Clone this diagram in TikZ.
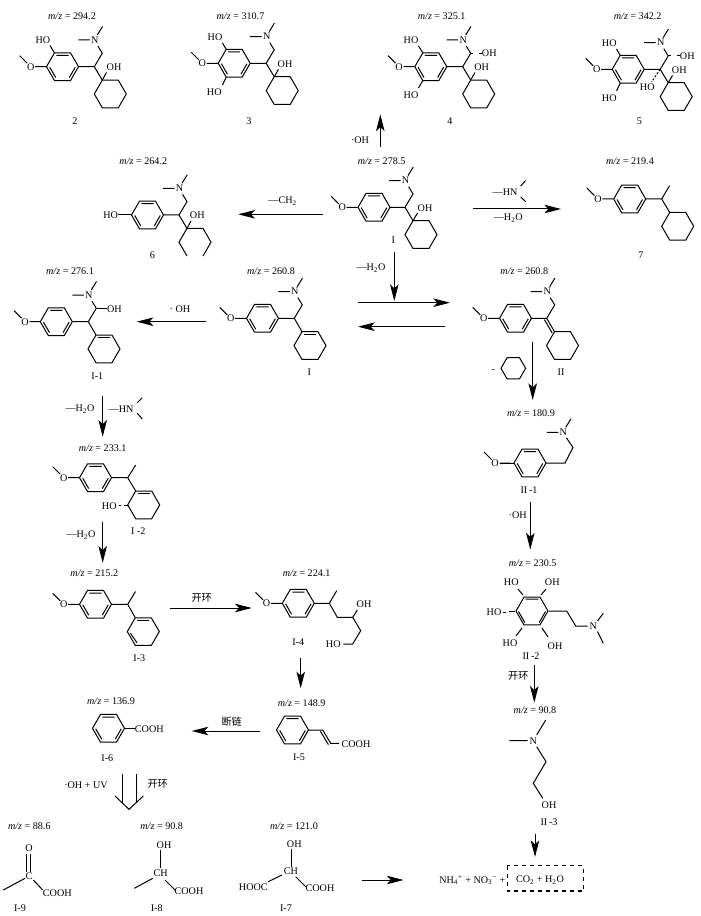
\documentclass[tikz,border=0pt]{standalone}
\usepackage{fontspec}
\setmainfont{Liberation Serif}
\newfontfamily\cjk{Noto Sans CJK SC}
\usetikzlibrary{arrows.meta}
\newcommand{\mz}[1]{\textit{m/z} = #1}
\tikzset{
    bond/.style={line width=.75pt},
    rxn/.style={line width=.75pt, -{Stealth[length=12.5pt,width=6.4pt,inset=3pt]}},
    txt/.style={inner sep=0pt, font=\fontsize{7.6}{9}\selectfont},
    hexring/.pic={\draw[bond] (0:16) -- (60:16) -- (120:16) -- (180:16) -- (240:16) -- (300:16) -- cycle;},
    hexene/.pic={\pic {hexring}; \draw[bond] (242:12.8) -- (298:12.8);},
    benzring/.pic={\pic {hexring}; \draw[bond] (242:12.8) -- (298:12.8) (2:12.8) -- (58:12.8) (122:12.8) -- (178:12.8);},
    methoxy/.pic={\node[txt] (-o) at (0,0) {O}; \draw[bond] (4.5,0) -- (15.5,0) (-3.5,-3.5) -- (-11,-11);},
    amine/.pic={\node[txt] (-n) at (0,0) {N}; \draw[bond] (-16.5,0) -- (-5,0) (2.5,-5) -- (7.7,-13.5);},
    sidechain/.pic={\draw[bond] (-16,0) -- (0,0) -- (8,-13.4) -- (3.6,-20.6); \pic (-am) at (0.5,-26.7) {amine};},
    cyclo/.pic={\draw[bond] (0,0) -- (8,13.4); \pic at (16,27.3) {hexring};}
}
\begin{document}
\begin{tikzpicture}[x=.75pt,y=-.75pt]
    \useasboundingbox (0,0) rectangle (700,916);

    % Compound 2
    \node[txt] (mz2) at (72,16) {\mz{294.2}};
    \pic at (62.5,66.7) {benzring}; \pic (oa) at (30.7,66.7) {methoxy};
    \pic (sa) at (94.3,66.7) {sidechain}; \pic at (94.3,66.7) {cyclo};
    \node[txt] (hoa) at (43,40) {HO}; \draw[bond] (50,45.5) -- (54.5,53);
    \node[txt] (oha) at (114,67.3) {OH}; \draw[bond] (102.3,80) -- (106.5,72.5);
    \node[txt] (two) at (75,121) {2};

    % Compound 3
    \node[txt] (mz3) at (240.5,16) {\mz{310.7}};
    \pic at (234.2,63.3) {benzring}; \pic (ob) at (202.3,63.3) {methoxy};
    \pic (sb) at (266.2,63.3) {sidechain}; \pic at (266.2,63.3) {cyclo};
    \node[txt] (hob) at (215,36.7) {HO}; \draw[bond] (222.5,43) -- (226.2,49.4);
    \node[txt] (hoc) at (214.3,91.7) {HO}; \draw[bond] (222.5,85) -- (226.2,77.2);
    \node[txt] (ohb) at (285,64) {OH}; \draw[bond] (274.2,76.7) -- (278.5,69.3);
    \node[txt] (three) at (249,121) {3};

    % Compound 4
    \node[txt] (mz4) at (441.7,16) {\mz{325.1}};
    \pic at (430.8,66.7) {benzring}; \pic (oc) at (399,66.7) {methoxy};
    \pic (sc) at (462.7,66.7) {sidechain}; \pic at (462.7,66.7) {cyclo};
    \node[txt] (hod) at (411,40) {HO}; \draw[bond] (418.5,46) -- (422.8,52.8);
    \node[txt] (hoe) at (411,95) {HO}; \draw[bond] (418.5,88) -- (422.8,80.6);
    \node[txt] (ohc) at (489.3,53.3) {OH}; \draw[bond] (470.7,53.3) -- (473,53.3) (479,53.3) -- (482,53.3);
    \node[txt] (ohd) at (481.7,67.3) {OH}; \draw[bond] (470.7,80) -- (475,72.5);
    \node[txt] (four) at (450,121) {4};

    % Compound 5
    \node[txt] (mz5) at (637.7,16) {\mz{342.2}};
    \pic at (628.2,69.3) {benzring}; \pic (od) at (596.7,69.3) {methoxy};
    \pic (sd) at (660.2,69.3) {sidechain}; \pic at (660.2,69.3) {cyclo};
    \node[txt] (hof) at (609.3,42.7) {HO}; \draw[bond] (616.5,49) -- (620.2,55.4);
    \node[txt] (hog) at (609.3,97.7) {HO}; \draw[bond] (616.5,91) -- (620.2,83.2);
    \node[txt] (ohe) at (687.3,56) {OH}; \draw[bond] (668.2,55.9) -- (670.5,55.9) (676.5,55.9) -- (680,55.9);
    \node[txt] (ohf) at (679.3,70) {OH}; \draw[bond] (668.2,82.7) -- (672.5,75.5);
    \node[txt] (hoh) at (647.3,86.7) {HO}; \draw[bond,dash pattern=on 1.6pt off 1.2pt] (660.2,69.3) -- (651.5,82);
    \node[txt] (five) at (639.3,121) {5};

    % Parent compound
    \node[txt] (mz1) at (381.7,161.7) {\mz{278.5}};
    \pic at (374,207.3) {benzring}; \pic (oe) at (342.2,207.3) {methoxy};
    \pic (se) at (405,207.3) {sidechain}; \pic at (405,207.3) {cyclo};
    \node[txt] (ohg) at (425,208) {OH}; \draw[bond] (413,220.7) -- (417.5,213);
    \node[txt] (one) at (393.3,240) {I};

    % Compound 6, its ring is open below
    \node[txt] (mz6) at (143.3,161.7) {\mz{264.2}};
    \pic at (147.5,215) {benzring};
    \node[txt] (hoi) at (110.7,215) {HO}; \draw[bond] (hoi.east) -- (131.5,215);
    \pic (sf) at (179,215) {sidechain};
    \draw[bond] (179,215) -- (187,228.4) -- (203,228.4) -- (211,242.2) -- (203,256);
    \draw[bond] (187,228.4) -- (179,242.2) -- (187,256);
    \node[txt] (ohh) at (197.3,215) {OH}; \draw[bond] (187,228.4) -- (191,221);
    \node[txt] (six) at (152.3,255) {6};

    % Compound 7
    \node[txt] (mz7) at (630,161.7) {\mz{219.4}};
    \pic at (629.7,199) {benzring}; \pic (of) at (597.9,199) {methoxy};
    \draw[bond] (645.7,199) -- (661.7,199) -- (669.5,185.7);
    \pic at (661.7,199) {cyclo};
    \node[txt] (seven) at (641,255) {7};

    % Upper arrows
    \coordinate (ua1) at (380.3,147.3); \coordinate (ua2) at (380.3,114.5); \draw[rxn] (ua1) -- (ua2);
    \node[txt] (lbla) at (360,140) {·OH};
    \coordinate (ub1) at (323.3,214.3); \coordinate (ub2) at (238.3,214.3); \draw[rxn] (ub1) -- (ub2);
    \node[txt] (lblb) at (282.7,201) {—CH\textsubscript{2}};
    \coordinate (uc1) at (473.3,209); \coordinate (uc2) at (561,209); \draw[rxn] (uc1) -- (uc2);
    \node[txt] (lblc) at (505,191.7) {—HN};
    \draw[bond] (520.7,186) -- (525.7,180.5) (520.7,197) -- (525.7,201.7);
    \node[txt] (lbld) at (508.3,218.3) {—H\textsubscript{2}O};

    % Dehydration and equilibrium
    \coordinate (da1) at (394.3,251.7); \coordinate (da2) at (394.3,301); \draw[rxn] (da1) -- (da2);
    \node[txt] (lble) at (371,268.3) {—H\textsubscript{2}O};
    \coordinate (ea1) at (357.7,302.7); \coordinate (ea2) at (450,302.7); \draw[rxn] (ea1) -- (ea2);
    \coordinate (eb1) at (445,326.7); \coordinate (eb2) at (358,326.7); \draw[rxn] (eb1) -- (eb2);

    % Isomer I
    \node[txt] (mzi) at (271,271.7) {\mz{260.8}};
    \pic at (262.5,318.3) {benzring}; \pic (og) at (230.7,318.3) {methoxy};
    \pic (sg) at (294.3,318.3) {sidechain};
    \draw[bond] (294.3,318.3) -- (302,331.7); \pic at (310,345.6) {hexene};
    \node[txt] (isoa) at (309.3,371.7) {I};

    % Isomer II
    \node[txt] (mzii) at (524.3,271.7) {\mz{260.8}};
    \pic at (515.5,318.3) {benzring}; \pic (oh) at (483.7,318.3) {methoxy};
    \pic (sh) at (546.7,318.3) {sidechain};
    \draw[bond] (546.7,318.3) -- (554.5,331.7) (544.4,319.6) -- (552.2,333);
    \pic at (562.5,345.6) {hexring};
    \node[txt] (isob) at (561,371.7) {II};

    % Loss of the ring
    \coordinate (fa1) at (532.7,342.3); \coordinate (fa2) at (532.7,400); \draw[rxn] (fa1) -- (fa2);
    \pic[scale=.77] at (513.3,368.3) {hexring};
    \node[txt] (lblf) at (493.3,371) {-};

    % II-1
    \node[txt] (mziia) at (531,413.3) {\mz{180.9}};
    \pic at (530,463) {benzring}; \pic (oi) at (495,463) {methoxy};
    \draw[bond] (495,463) ++(4.5,0) -- (514,463);
    \draw[bond] (546,463) -- (565,463) -- (573,447.5) -- (566.5,438);
    \pic (ami) at (563.3,432.3) {amine};
    \node[txt] (lblg) at (529,490) {II\,-1};

    % II-2
    \coordinate (ga1) at (530.3,501.7); \coordinate (ga2) at (530.3,549.5); \draw[rxn] (ga1) -- (ga2);
    \node[txt] (lblh) at (517.7,515) {·OH};
    \node[txt] (mziib) at (532.7,562.7) {\mz{230.5}};
    \pic[scale=1.06] at (532,611) {benzring};
    \node[txt] (hoj) at (511.3,581.7) {HO}; \draw[bond] (518,589) -- (523,595);
    \node[txt] (ohi) at (552.3,581.7) {OH}; \draw[bond] (546,589) -- (541,595);
    \node[txt] (hok) at (494,612) {HO}; \draw[bond] (503,612) -- (506,612) (509,611.5) -- (515,611.5);
    \node[txt] (hol) at (510,642.7) {HO}; \draw[bond] (516,636) -- (522,628);
    \node[txt] (ohj) at (555,645.7) {OH}; \draw[bond] (548,637) -- (542,628);
    \draw[bond] (549,611) -- (566.7,611) -- (575.7,626) -- (587.5,626);
    \node[txt] (nb) at (593.3,626) {N};
    \draw[bond] (597.5,621) -- (603.3,613.3) (597.5,631.5) -- (603.3,643.3);
    \node[txt] (lbli) at (531,655.7) {II\,-2};

    % II-3
    \coordinate (ha1) at (534.3,665); \coordinate (ha2) at (534.3,702.7); \draw[rxn] (ha1) -- (ha2);
    \node[txt] (lblj) at (518.3,676) {\cjk 开环};
    \node[txt] (mziic) at (535,710) {\mz{90.8}};
    \node[txt] (nc) at (533.3,741) {N};
    \draw[bond] (509.3,740.7) -- (527.5,740.7) (536.7,735) -- (545.7,720);
    \draw[bond] (536.7,746.7) -- (546,761.7) -- (533.3,783.3) -- (542.7,798.3);
    \node[txt] (ohk) at (549,804.7) {OH};
    \node[txt] (lblk) at (549,821.7) {II\,-3};

    % End products
    \coordinate (ja1) at (535,834); \coordinate (ja2) at (535,857); \draw[rxn] (ja1) -- (ja2);
    \coordinate (ka1) at (361.7,880); \coordinate (ka2) at (403.5,880); \draw[rxn] (ka1) -- (ka2);
    \node[txt] (ions) at (472.3,880) {NH\textsubscript{4}\textsuperscript{+} + NO\textsubscript{3}\textsuperscript{−} +};
    \draw[line width=.8pt, dashed] (507.3,865.7) rectangle (583.5,891);
    \node[txt] (co2) at (540,880) {CO\textsubscript{2} + H\textsubscript{2}O};

    % I-1
    \coordinate (la1) at (205.7,321.7); \coordinate (la2) at (136.7,321.7); \draw[rxn] (la1) -- (la2);
    \node[txt] (lbll) at (180,309.3) {· OH};
    \node[txt] (mzia) at (70,271.7) {\mz{276.1}};
    \pic at (56.3,321.7) {benzring}; \pic (oj) at (25,321.7) {methoxy};
    \pic (sj) at (88.3,321.7) {sidechain};
    \draw[bond] (88.3,321.7) -- (96,335); \pic at (104,348.9) {hexene};
    \node[txt] (ohl) at (114.5,309) {OH}; \draw[bond] (96.3,308.3) -- (107,308.3);
    \node[txt] (lblm) at (97.3,375.7) {I-1};

    % I-2
    \coordinate (ma1) at (102.7,395.7); \coordinate (ma2) at (102.7,436.7); \draw[rxn] (ma1) -- (ma2);
    \node[txt] (lbln) at (80,409) {—H\textsubscript{2}O};
    \node[txt] (lblo) at (121,409) {—HN};
    \draw[bond] (137.3,402.7) -- (142.3,397.7) (137.3,413.3) -- (142.3,419);
    \node[txt] (mzib) at (102.7,448.3) {\mz{233.1}};
    \pic at (95.5,477.7) {benzring}; \pic (ok) at (63.7,477.7) {methoxy};
    \draw[bond] (111.5,477.7) -- (127.7,477.7) -- (135.7,465);
    \draw[bond] (127.7,477.7) -- (135.7,491); \pic at (143.7,504.9) {hexene};
    \node[txt] (hom) at (109.3,505.7) {HO}; \draw[bond] (118.5,505) -- (120.5,505) (123.5,505) -- (127.7,505);
    \node[txt] (lblp) at (138.3,530.7) {I -2};

    % I-3
    \coordinate (na1) at (102.7,522.3); \coordinate (na2) at (102.7,562.7); \draw[rxn] (na1) -- (na2);
    \node[txt] (lblq) at (81,535) {—H\textsubscript{2}O};
    \node[txt] (mzic) at (94.3,573.3) {\mz{215.2}};
    \pic at (95.5,604.3) {benzring}; \pic (ol) at (63.7,604.3) {methoxy};
    \draw[bond] (111.5,604.3) -- (127.7,604.3) -- (135.5,591.5);
    \draw[bond] (127.7,604.3) -- (135.3,617.7); \pic at (143.3,631.6) {hexene};
    \draw[bond] (130.4,633.2) -- (137,642.8);
    \node[txt] (lblr) at (139.3,658.3) {I-3};

    % I-4
    \coordinate (oa1) at (170,608); \coordinate (oa2) at (251.7,608); \draw[rxn] (oa1) -- (oa2);
    \node[txt] (lbls) at (201.7,598) {\cjk 开环};
    \node[txt] (mzid) at (306.7,573.3) {\mz{224.1}};
    \pic at (298.3,603.3) {benzring}; \pic (om) at (266.5,603.3) {methoxy};
    \draw[bond] (314.3,603.3) -- (329.3,603.3) -- (336.7,590.7);
    \draw[bond] (329.3,603.3) -- (337.3,617.3) -- (352.7,617.3) -- (360.7,630.7) -- (352.7,644) -- (343.3,644);
    \draw[bond] (352.7,617.3) -- (357.3,610);
    \node[txt] (ohm) at (364,604.3) {OH};
    \node[txt] (hon) at (333.3,644) {HO};
    \node[txt] (lblt) at (298.3,642.3) {I-4};

    % I-5
    \coordinate (pa1) at (300.7,658.3); \coordinate (pa2) at (300.7,688.3); \draw[rxn] (pa1) -- (pa2);
    \node[txt] (mzie) at (301.7,703.3) {\mz{148.9}};
    \pic at (292.5,730) {benzring};
    \draw[bond] (308.5,730) -- (322.7,730) -- (330.7,743.3) -- (339,743.3) (320.4,731.3) -- (328.4,744.6);
    \node[txt] (cooa) at (356,744.3) {COOH};
    \node[txt] (lblu) at (299,757.7) {I-5};

    % I-6
    \coordinate (qa1) at (260,731); \coordinate (qa2) at (191.7,731); \draw[rxn] (qa1) -- (qa2);
    \node[txt] (lblv) at (231.7,721.7) {\cjk 断链};
    \node[txt] (mzif) at (111,701) {\mz{136.9}};
    \pic at (108.5,728.3) {benzring};
    \draw[bond] (124.5,728.3) -- (135,728.3);
    \node[txt] (coob) at (149.3,729) {COOH};
    \node[txt] (lblw) at (107.3,757.7) {I-6};

    % Ring opening, open double arrow
    \draw[bond] (122.3,774) -- (122.3,803) (136,774) -- (136,803);
    \draw[bond] (115,796) -- (129,809.3) -- (143.3,796);
    \node[txt] (lblx) at (86,785.7) {·OH + UV};
    \node[txt] (lbly) at (157.7,784) {\cjk 开环};

    % I-9
    \node[txt] (mzii9) at (29.3,826) {\mz{88.6}};
    \node[txt] (oxo) at (29,848.3) {O};
    \draw[bond] (26.9,853.5) -- (26.9,871.5) (30.7,853.5) -- (30.7,871.5);
    \node[txt] (ca) at (29,876) {C};
    \draw[bond] (3.3,890) -- (25,878.3) (33.3,880) -- (42.7,890);
    \node[txt] (cooc) at (57.3,893.3) {COOH};
    \node[txt] (lblz) at (20,908.3) {I-9};

    % I-8
    \node[txt] (mzii8) at (161.7,826) {\mz{90.8}};
    \node[txt] (ohn) at (164,845) {OH};
    \draw[bond] (160.3,850) -- (160.3,868.3);
    \node[txt] (cha) at (160.7,873.3) {CH};
    \draw[bond] (134.3,888.3) -- (152.7,878.3) (165,880) -- (175,890);
    \node[txt] (cood) at (189,890.7) {COOH};
    \node[txt] (lblaa) at (156.7,908.3) {I-8};

    % I-7
    \node[txt] (mzii7) at (294,826) {\mz{121.0}};
    \node[txt] (oho) at (294.3,844) {OH};
    \draw[bond] (291,849.3) -- (291,866.7);
    \node[txt] (chb) at (291,871) {CH};
    \draw[bond] (268.3,881.7) -- (281.7,875) (295.7,876.7) -- (305.7,886.7);
    \node[txt] (cooe) at (253.3,886.7) {HOOC};
    \node[txt] (coof) at (320,888.3) {COOH};
    \node[txt] (lblab) at (286,908.3) {I-7};
\end{tikzpicture}
\end{document}
